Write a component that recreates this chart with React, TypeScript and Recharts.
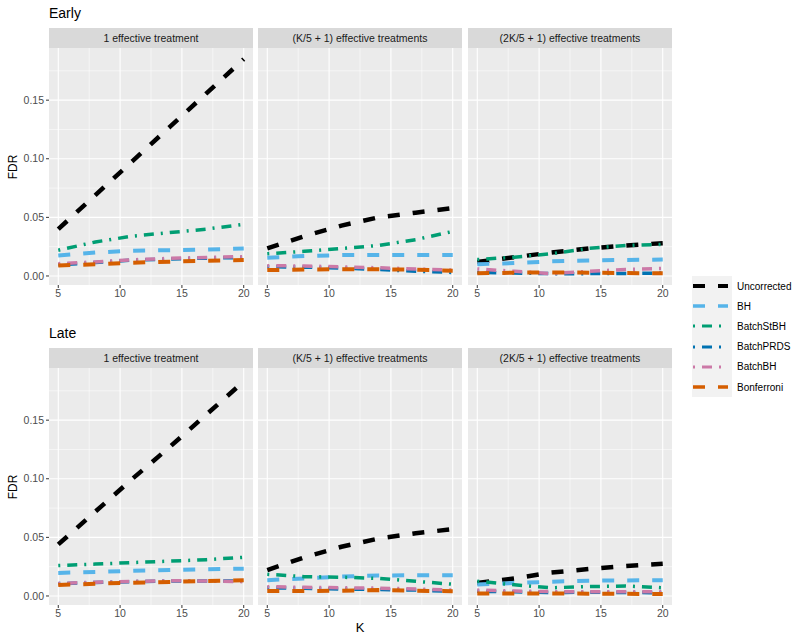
import React from 'react';
import { LineChart, Line, XAxis, YAxis, CartesianGrid } from 'recharts';

// x positions (number of arms K)
const K = [5, 8, 11, 14, 17, 20];

const seriesNames = ['Uncorrected', 'BH', 'BatchStBH', 'BatchPRDS', 'BatchBH', 'Bonferroni'];
const seriesColors = ['#000000', '#56B4E9', '#009E73', '#0072B2', '#CC79A7', '#D55E00'];
const seriesDash = ['12 13', '12 13', '2 7 10 7', '2 7 10 7', '2 7 10 7', '12 13'];
const seriesWidth = [4.5, 4, 3.5, 3.5, 3.5, 4];

const facetLabels = ['1 effective treatment', '(K/5 + 1) effective treatments', '(2K/5 + 1) effective treatments'];
const rowLabels = ['Early', 'Late'];

const xTicks = [5, 10, 15, 20];
const xMinor = [7.5, 12.5, 17.5];
const yTicks = [0, 0.05, 0.1, 0.15];
const yMinor = [0.025, 0.075, 0.125, 0.175];

// each panel: [Uncorrected, BH, BatchStBH, BatchPRDS, BatchBH, Bonferroni]
const early1 = [
  [0.040, 0.069, 0.098, 0.127, 0.156, 0.185],
  [0.0175, 0.020, 0.0215, 0.022, 0.0225, 0.0235],
  [0.022, 0.029, 0.034, 0.037, 0.040, 0.044],
  [0.0095, 0.0115, 0.0135, 0.0145, 0.0152, 0.0158],
  [0.0105, 0.012, 0.0138, 0.015, 0.0158, 0.0165],
  [0.009, 0.010, 0.0113, 0.0122, 0.013, 0.0136],
];
const early2 = [
  [0.0235, 0.034, 0.043, 0.050, 0.054, 0.058],
  [0.0156, 0.017, 0.0178, 0.018, 0.018, 0.018],
  [0.019, 0.021, 0.0235, 0.026, 0.031, 0.038],
  [0.008, 0.0075, 0.0068, 0.0055, 0.004, 0.003],
  [0.0088, 0.0085, 0.0078, 0.007, 0.006, 0.005],
  [0.005, 0.0055, 0.0057, 0.0057, 0.0053, 0.0045],
];
const early3 = [
  [0.012, 0.016, 0.020, 0.0235, 0.026, 0.028],
  [0.010, 0.011, 0.0125, 0.0132, 0.0137, 0.014],
  [0.014, 0.016, 0.019, 0.0235, 0.026, 0.027],
  [0.003, 0.0025, 0.002, 0.002, 0.0022, 0.0025],
  [0.006, 0.004, 0.002, 0.004, 0.0055, 0.0065],
  [0.0023, 0.0028, 0.003, 0.0028, 0.0025, 0.0023],
];
const late1 = [
  [0.044, 0.072, 0.100, 0.127, 0.155, 0.183],
  [0.0197, 0.0205, 0.0215, 0.0222, 0.0228, 0.0233],
  [0.026, 0.0272, 0.0285, 0.0297, 0.031, 0.033],
  [0.0105, 0.0115, 0.0122, 0.0128, 0.0128, 0.0128],
  [0.0107, 0.0117, 0.0124, 0.013, 0.0128, 0.0122],
  [0.0093, 0.0105, 0.0113, 0.012, 0.0127, 0.0135],
];
const late2 = [
  [0.022, 0.033, 0.042, 0.049, 0.0535, 0.057],
  [0.0135, 0.015, 0.0165, 0.0175, 0.0177, 0.0177],
  [0.0185, 0.0165, 0.016, 0.015, 0.0125, 0.010],
  [0.007, 0.0065, 0.006, 0.0055, 0.005, 0.004],
  [0.0079, 0.0074, 0.007, 0.0067, 0.006, 0.005],
  [0.0042, 0.0042, 0.0045, 0.005, 0.0045, 0.004],
];
const late3 = [
  [0.011, 0.015, 0.020, 0.023, 0.0255, 0.0275],
  [0.0098, 0.011, 0.0122, 0.013, 0.0133, 0.0135],
  [0.0126, 0.0095, 0.007, 0.008, 0.0085, 0.007],
  [0.004, 0.0035, 0.003, 0.0032, 0.003, 0.0028],
  [0.005, 0.0042, 0.0037, 0.0037, 0.0037, 0.0037],
  [0.0022, 0.0022, 0.0022, 0.002, 0.0018, 0.0017],
];

const panels = [
  [early1, early2, early3],
  [late1, late2, late3],
];

const FONT = '"Liberation Sans", Arial, sans-serif';
const PANEL_W = 204;
const PANEL_H = 237;
const Y_AXIS_W = 49;
const X_AXIS_H = 22;
const colLeft = [49, 258, 468];
const rowTop = [48, 368];
const X_DOMAIN: [number, number] = [4.25, 20.75];
const Y_DOMAIN: [number, number] = [-0.0077, 0.1945];

function Facet({ values, col, row }: { values: number[][]; col: number; row: number }) {
  const showY = col === 0;
  const data = K.map((k, i) => {
    const r: Record<string, number> = { k };
    seriesNames.forEach((name, j) => {
      r[name] = values[j][i];
    });
    return r;
  });
  const left = showY ? colLeft[col] - Y_AXIS_W : colLeft[col];
  const tickStyle = { fill: '#4D4D4D', fontSize: 10.5, fontFamily: FONT };

  return (
    <>
      <div
        style={{
          position: 'absolute',
          left: colLeft[col],
          top: rowTop[row] - 20,
          width: PANEL_W,
          height: 20,
          background: '#D9D9D9',
          color: '#1A1A1A',
          fontSize: 10.5,
          lineHeight: '20px',
          textAlign: 'center',
          fontFamily: FONT,
        }}
      >
        {facetLabels[col]}
      </div>
      <div style={{ position: 'absolute', left, top: rowTop[row] }}>
        <LineChart
          width={(showY ? Y_AXIS_W : 0) + PANEL_W}
          height={PANEL_H + X_AXIS_H}
          data={data}
          margin={{ top: 0, right: 0, bottom: 0, left: 0 }}
        >
          <CartesianGrid
            fill="#EBEBEB"
            stroke="#FFFFFF"
            strokeWidth={0.55}
            horizontalValues={yMinor}
            verticalValues={xMinor}
          />
          <CartesianGrid stroke="#FFFFFF" strokeWidth={1.1} horizontalValues={yTicks} verticalValues={xTicks} />
          <XAxis
            dataKey="k"
            type="number"
            domain={X_DOMAIN}
            ticks={xTicks}
            interval={0}
            allowDataOverflow
            axisLine={false}
            tickSize={3}
            tickLine={{ stroke: '#333333' }}
            tick={tickStyle}
            height={X_AXIS_H}
          />
          <YAxis
            type="number"
            domain={Y_DOMAIN}
            ticks={yTicks}
            interval={0}
            allowDataOverflow
            hide={!showY}
            width={Y_AXIS_W}
            axisLine={false}
            tickSize={3}
            tickLine={{ stroke: '#333333' }}
            tick={tickStyle}
            tickFormatter={(v: number) => v.toFixed(2)}
          />
          {seriesNames.map((name, j) => (
            <Line
              key={name}
              type="linear"
              dataKey={name}
              stroke={seriesColors[j]}
              strokeWidth={seriesWidth[j]}
              strokeDasharray={seriesDash[j]}
              strokeLinecap="butt"
              dot={false}
              activeDot={false}
              isAnimationActive={false}
            />
          ))}
        </LineChart>
      </div>
    </>
  );
}

function LegendBox() {
  return (
    <div style={{ position: 'absolute', left: 692, top: 276, fontFamily: FONT }}>
      {seriesNames.map((name, j) => (
        <div key={name} style={{ display: 'flex', alignItems: 'center', height: 20.2 }}>
          <svg width={40} height={20.2} style={{ background: '#F2F2F2', display: 'block' }}>
            <line
              x1={1}
              x2={36}
              y1={10}
              y2={10}
              stroke={seriesColors[j]}
              strokeWidth={seriesWidth[j] - 0.5}
              strokeDasharray={seriesDash[j]}
            />
          </svg>
          <span style={{ marginLeft: 5, fontSize: 10, color: '#000' }}>{name}</span>
        </div>
      ))}
    </div>
  );
}

export default function App() {
  return (
    <div
      style={{
        position: 'absolute',
        left: 0,
        top: 0,
        width: 800,
        height: 641,
        background: '#FFFFFF',
        fontFamily: FONT,
        overflow: 'hidden',
      }}
    >
      {rowLabels.map((label, row) => (
        <React.Fragment key={label}>
          <div
            style={{
              position: 'absolute',
              left: 49,
              top: rowTop[row] - 42,
              fontSize: 14,
              lineHeight: '14px',
              color: '#000',
            }}
          >
            {label}
          </div>
          <div
            style={{
              position: 'absolute',
              left: 13 - 30,
              top: rowTop[row] + PANEL_H / 2 - 7,
              width: 60,
              height: 14,
              lineHeight: '14px',
              textAlign: 'center',
              fontSize: 12,
              transform: 'rotate(-90deg)',
              color: '#000',
            }}
          >
            FDR
          </div>
          {panels[row].map((values, col) => (
            <Facet key={col} values={values} col={col} row={row} />
          ))}
        </React.Fragment>
      ))}
      <div
        style={{
          position: 'absolute',
          left: 330,
          top: 621,
          width: 60,
          textAlign: 'center',
          fontSize: 13,
          lineHeight: '13px',
          color: '#000',
        }}
      >
        K
      </div>
      <LegendBox />
    </div>
  );
}
